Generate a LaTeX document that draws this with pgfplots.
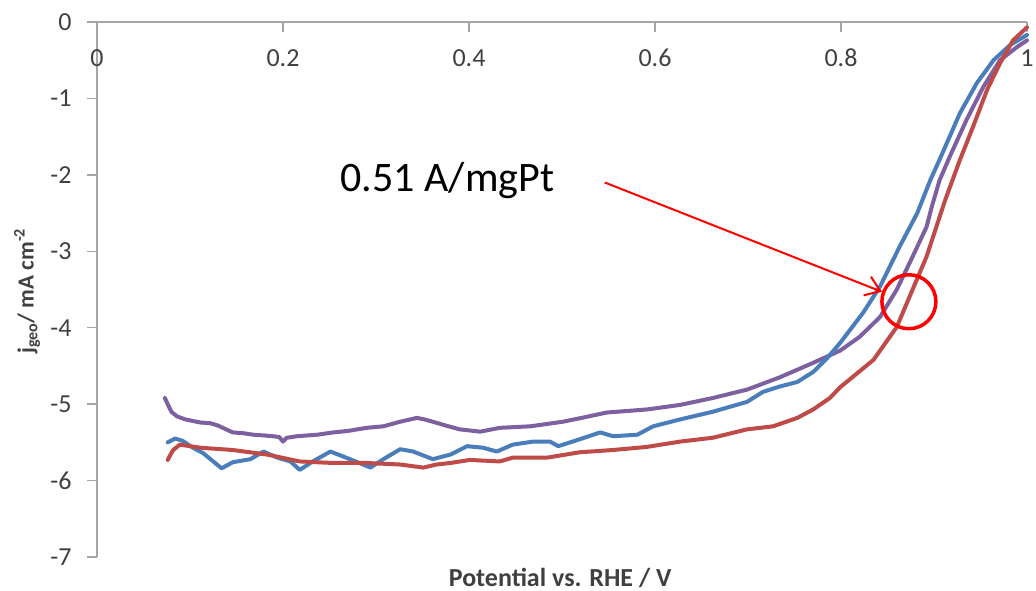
\documentclass[border=0pt]{standalone}
\usepackage{fontspec}
\setmainfont{Carlito}
\usepackage{pgfplots}
\pgfplotsset{compat=1.18}
\usetikzlibrary{arrows.meta}
\definecolor{cblue}{HTML}{4A7EBB}
\definecolor{cred}{HTML}{BE4B48}
\definecolor{cpurple}{HTML}{7D60A0}
\definecolor{caxis}{HTML}{A6A6A6}
\definecolor{ctext}{HTML}{404040}
\begin{document}
\begin{tikzpicture}
\begin{axis}[
  at={(0,0)}, anchor=south west,
  scale only axis, width=930pt, height=535pt,
  xmin=0, xmax=1, ymin=-7, ymax=0,
  axis x line*=top, axis y line*=left,
  axis line style={draw=caxis, line width=1.5pt, -},
  tick align=outside, major tick length=10pt,
  every tick/.style={draw=caxis, line width=1.5pt},
  major x tick style={yshift=-10pt},
  xtick={0,0.2,0.4,0.6,0.8,1}, ytick={-7,-6,-5,-4,-3,-2,-1,0},
  /pgf/number format/assume math mode=true,
  ticklabel style={font=\fontsize{26}{30}\selectfont, text=ctext},
  xticklabel style={anchor=center, yshift=-46pt},
  yticklabel style={anchor=east, xshift=-12pt},
  xlabel={\textbf{Potential vs. RHE / V}},
  ylabel={\textbf{j\textsubscript{geo}/ mA cm\textsuperscript{-2}}},
  xlabel style={font=\fontsize{26}{30}\selectfont, text=ctext, at={(axis description cs:0.498,0)}, anchor=center, yshift=-21pt},
  ylabel style={font=\fontsize{23}{27}\selectfont, text=ctext, at={(axis description cs:0,0.497)}, anchor=center, yshift=70pt},
  clip=false,
  every axis plot/.append style={line width=4pt, line join=round, line cap=round},
]
% purple
\addplot[cpurple] coordinates {
(0.073,-4.92) (0.076,-5.00) (0.080,-5.10) (0.086,-5.16) (0.095,-5.20) (0.111,-5.24)
(0.122,-5.25) (0.130,-5.28) (0.146,-5.37) (0.157,-5.38) (0.168,-5.40) (0.180,-5.41)
(0.189,-5.42) (0.196,-5.43) (0.200,-5.49) (0.204,-5.44) (0.215,-5.42) (0.237,-5.40)
(0.254,-5.37) (0.270,-5.35) (0.290,-5.31) (0.308,-5.29) (0.326,-5.23) (0.344,-5.18)
(0.352,-5.20) (0.361,-5.23) (0.375,-5.28) (0.390,-5.33) (0.412,-5.36) (0.433,-5.31)
(0.466,-5.29) (0.501,-5.23) (0.525,-5.17) (0.548,-5.11) (0.591,-5.07) (0.627,-5.01)
(0.662,-4.92) (0.699,-4.81) (0.734,-4.65) (0.770,-4.46) (0.799,-4.30) (0.820,-4.12)
(0.842,-3.86) (0.860,-3.50) (0.877,-3.07) (0.892,-2.68) (0.898,-2.40) (0.906,-2.07)
(0.917,-1.76) (0.935,-1.28) (0.953,-0.85) (0.971,-0.50) (0.989,-0.33) (1.000,-0.24)
};
% blue
\addplot[cblue] coordinates {
(0.076,-5.50) (0.084,-5.45) (0.092,-5.48) (0.103,-5.57) (0.114,-5.64) (0.124,-5.74)
(0.134,-5.84) (0.146,-5.76) (0.165,-5.72) (0.179,-5.62) (0.194,-5.70) (0.208,-5.75)
(0.218,-5.86) (0.232,-5.75) (0.251,-5.62) (0.272,-5.72) (0.294,-5.83) (0.308,-5.72)
(0.326,-5.59) (0.340,-5.62) (0.361,-5.72) (0.380,-5.66) (0.398,-5.55) (0.415,-5.57)
(0.430,-5.62) (0.447,-5.53) (0.469,-5.49) (0.487,-5.49) (0.496,-5.55) (0.519,-5.46)
(0.541,-5.37) (0.555,-5.42) (0.581,-5.40) (0.598,-5.29) (0.627,-5.20) (0.662,-5.10)
(0.699,-4.97) (0.716,-4.84) (0.734,-4.77) (0.753,-4.71) (0.770,-4.58) (0.785,-4.40)
(0.799,-4.20) (0.824,-3.80) (0.842,-3.46) (0.863,-2.94) (0.882,-2.50) (0.896,-2.07)
(0.906,-1.80) (0.928,-1.19) (0.946,-0.80) (0.964,-0.50) (0.982,-0.30) (1.000,-0.17)
};
% red
\addplot[cred] coordinates {
(0.076,-5.73) (0.079,-5.66) (0.082,-5.60) (0.089,-5.53) (0.100,-5.55) (0.111,-5.57)
(0.146,-5.60) (0.183,-5.66) (0.218,-5.75) (0.254,-5.77) (0.290,-5.77) (0.326,-5.79)
(0.351,-5.83) (0.365,-5.79) (0.380,-5.77) (0.401,-5.73) (0.433,-5.75) (0.447,-5.70)
(0.484,-5.70) (0.519,-5.63) (0.555,-5.60) (0.591,-5.56) (0.627,-5.49) (0.662,-5.44)
(0.699,-5.33) (0.727,-5.29) (0.753,-5.18) (0.770,-5.07) (0.788,-4.92) (0.799,-4.78)
(0.813,-4.64) (0.835,-4.42) (0.860,-3.99) (0.877,-3.50) (0.892,-3.07) (0.912,-2.33)
(0.928,-1.80) (0.942,-1.37) (0.957,-0.89) (0.971,-0.54) (0.985,-0.24) (1.000,-0.07)
};
\node[anchor=base, font=\fontsize{42}{50}\selectfont, text=black] at (axis cs:0.377,-2.222) {0.51 A/mgPt};
\draw[red, line width=2pt, -{Straight Barb[length=14pt,width=20pt,line width=2pt]}] (axis cs:0.546,-2.10) -- (axis cs:0.844,-3.53);
\draw[red, line width=3.5pt] (axis cs:0.873,-3.66) circle[radius=27pt];
\end{axis}
\pgfresetboundingbox
\path[use as bounding box] (-97pt,-34pt) rectangle (939pt,557pt);
\end{tikzpicture}
\end{document}
